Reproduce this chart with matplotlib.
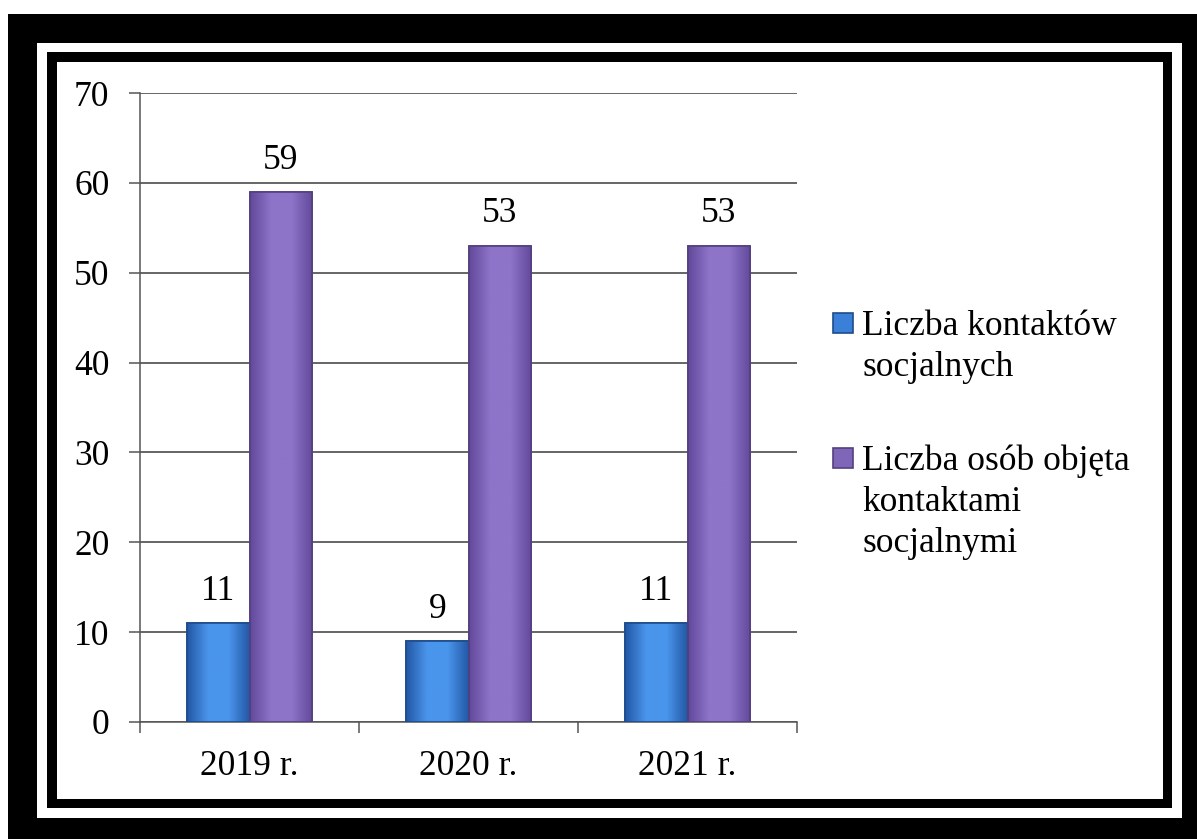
import numpy as np
import matplotlib.pyplot as plt
from matplotlib.patches import Rectangle
from matplotlib.colors import LinearSegmentedColormap

plt.rcParams['font.family'] = ['Liberation Serif', 'DejaVu Serif']

years = ["2019 r.", "2020 r.", "2021 r."]
kontakty = [11, 9, 11]
osoby = [59, 53, 53]
series_labels = ["Liczba kontaktów\nsocjalnych",
                 "Liczba osób objęta\nkontaktami\nsocjalnymi"]
colors = ["#3A80D8", "#8066B8"]
edge_colors = ["#1E4C8A", "#54407F"]
grad_colors = [("#2458A6", "#4A95EC"), ("#624A9C", "#8E74C8")]

W, H = 1197, 839
FS = 25.5
fig = plt.figure(figsize=(W / 100, H / 100), dpi=100)


def px_rect(x0, y0, x1, y1, color, z):
    fig.add_artist(Rectangle((x0 / W, 1 - y1 / H), (x1 - x0) / W, (y1 - y0) / H,
                             transform=fig.transFigure, facecolor=color,
                             edgecolor="none", zorder=z))


# double black frame
px_rect(8, 14, 1197, 839, "black", -10)
px_rect(37, 43, 1182, 818, "white", -9)
px_rect(47, 52, 1172, 808, "black", -8)
px_rect(57, 62, 1163, 799, "white", -7)

ax = fig.add_axes([140 / W, 1 - 722 / H, 657 / W, 629 / H])
ax.set_facecolor("none")

x = np.arange(len(years)) + 0.5
bw = 0.284
for vals, off, col, ec, gc in [(kontakty, -bw / 2, colors[0], edge_colors[0], grad_colors[0]),
                                (osoby, bw / 2, colors[1], edge_colors[1], grad_colors[1])]:
    bars = ax.bar(x + off, vals, width=bw, color=col, edgecolor=ec, linewidth=1.2, zorder=3)
    cmap = LinearSegmentedColormap.from_list("g", [gc[0], gc[1], gc[1], gc[0]])
    grad = np.linspace(0, 1, 64).reshape(1, -1)
    for b in bars:
        im = ax.imshow(grad, cmap=cmap, aspect="auto", zorder=3.5,
                       extent=[b.get_x(), b.get_x() + b.get_width(), 0, b.get_height()])
        im.set_clip_path(b)
        ax.bar(b.get_x() + b.get_width() / 2, b.get_height(), width=b.get_width(),
               color="none", edgecolor=ec, linewidth=1.2, zorder=4)
    for xi, v in zip(x + off, vals):
        ax.annotate(str(v), (xi, v), xytext=(0, 11), textcoords="offset points",
                    ha="center", va="bottom", fontsize=FS)

ax.set_xlim(0, 3)
ax.set_ylim(0, 70)
ax.set_yticks(range(0, 71, 10))
ax.yaxis.grid(True, color="#3c3c3c", linewidth=1.1, zorder=1)
ax.set_axisbelow(True)
ax.set_xticks([0, 1, 2, 3])
ax.set_xticklabels([])
ax.set_xticks(x, minor=True)
ax.set_xticklabels(years, minor=True)
ax.tick_params(axis="x", which="major", length=8, width=1.1, color="#555555")
ax.tick_params(axis="x", which="minor", length=0, pad=20, labelsize=FS)
ax.tick_params(axis="y", length=8, width=1.1, color="#555555", pad=14, labelsize=FS)
for s in ["top", "right"]:
    ax.spines[s].set_visible(False)
for s in ["left", "bottom"]:
    ax.spines[s].set_color("#555555")
    ax.spines[s].set_linewidth(1.1)

# legend drawn by hand to follow the original layout
leg_y = [323, 458]
for lab, col, ec, yc in zip(series_labels, colors, edge_colors, leg_y):
    fig.add_artist(Rectangle((833 / W, 1 - (yc + 10) / H), 20 / W, 20 / H,
                             transform=fig.transFigure, facecolor=col,
                             edgecolor=ec, linewidth=1.2))
    for i, line in enumerate(lab.split("\n")):
        fig.text(862 / W, 1 - (yc + 12 + 41 * i) / H, line, fontsize=FS,
                 ha="left", va="baseline")

fig.savefig("out.png", dpi=100)
